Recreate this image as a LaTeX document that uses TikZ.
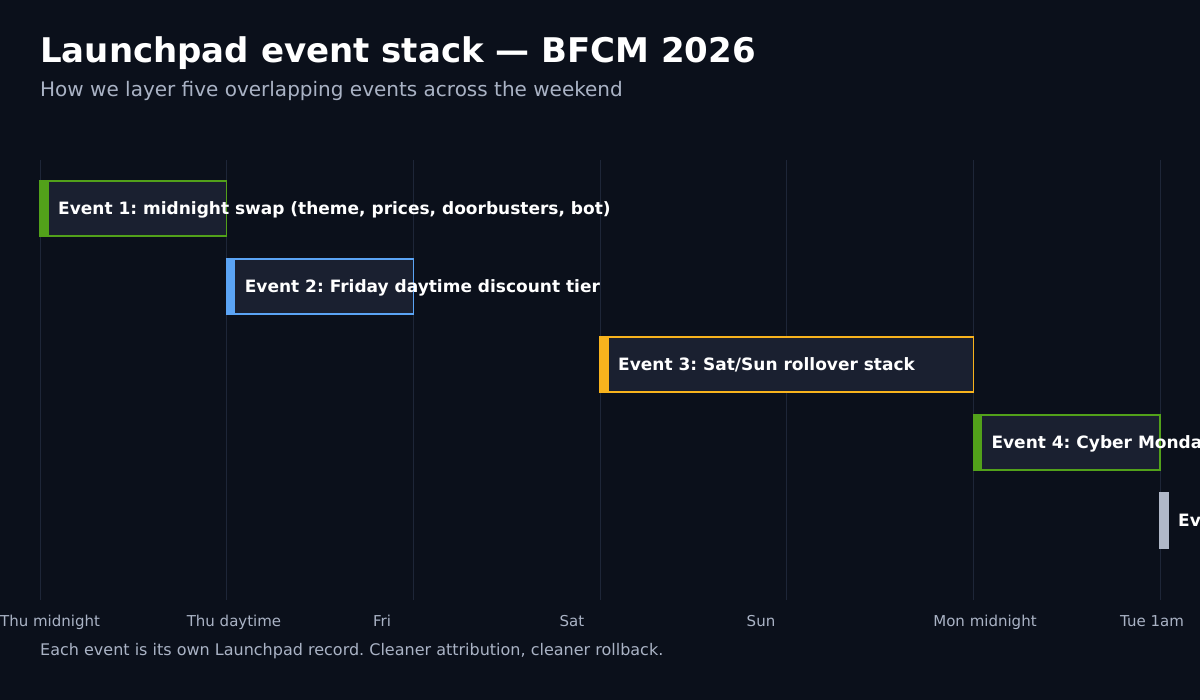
\documentclass[tikz,border=0pt]{standalone}
\usepackage{fontspec}
\setmainfont{DejaVu Sans}
\frenchspacing
\definecolor{bgdark}{HTML}{0B101B}
\definecolor{barfill}{HTML}{1A2030}
\definecolor{gridline}{HTML}{1E2638}
\definecolor{mutedtext}{HTML}{AAB3C5}
\definecolor{evgreen}{HTML}{52A11A}
\definecolor{evblue}{HTML}{5BA4F5}
\definecolor{evyellow}{HTML}{F8B31D}
\definecolor{evgrey}{HTML}{B0B8C8}
\begin{document}
\begin{tikzpicture}[x=1pt,y=-1pt]
        % Styles
        \tikzstyle{title text}=[anchor=base west,inner sep=0pt,text=white,font=\fontsize{34}{40}\selectfont\bfseries]
        \tikzstyle{subtitle text}=[anchor=base west,inner sep=0pt,text=mutedtext,font=\fontsize{20}{24}\selectfont]
        \tikzstyle{event text}=[anchor=base west,inner sep=0pt,text=white,font=\fontsize{17}{20}\selectfont\bfseries]
        \tikzstyle{axis text}=[anchor=base,inner sep=0pt,text=mutedtext,font=\fontsize{15}{18}\selectfont]
        \tikzstyle{note text}=[anchor=base west,inner sep=0pt,text=mutedtext,font=\fontsize{16}{19}\selectfont]
        \tikzstyle{grid line}=[draw=gridline,line width=1pt]
        %background
        \fill[bgdark] (0,0) rectangle (1200,700);
        \useasboundingbox (0,0) rectangle (1200,700);
        \clip (0,0) rectangle (1200,700);
        %heading
        \node[title text] (title) at (40,63) {Launchpad event stack — BFCM 2026};
        \node[subtitle text] (subtitle) at (40,97) {How we layer five overlapping events across the weekend};
        %grid
        \foreach \x in {40,226.67,413.33,600,786.67,973.33,1160}
            \draw[style=grid line] (\x,160) -- (\x,600);
        %events
        \foreach \n/\xa/\xb/\y/\col/\txt in {
            1/40/226.67/181/evgreen/{Event 1: midnight swap (theme, prices, doorbusters, bot)},
            2/226.67/413.33/259/evblue/{Event 2: Friday daytime discount tier},
            3/600/973.33/337/evyellow/{Event 3: Sat/Sun rollover stack},
            4/973.33/1160/415/evgreen/{Event 4: Cyber Monday}}
        {
            \draw[fill=barfill,draw=\col,line width=1.5pt] (\xa,\y) rectangle (\xb,\y+55);
            \fill[\col] (\xa-0.75,\y-0.75) rectangle (\xa+8.5,\y+55.75);
            \node[event text] (event\n) at (\xa+18,\y+33.5) {\txt};
        }
        \fill[evgrey] (1159,492) rectangle (1169,549);
        \node[event text] (event5) at (1178,526.5) {Event 5};
        %axis labels
        \foreach \x/\xtext/\name in {50/Thu midnight/thumid,234/Thu daytime/thuday,382/Fri/fri,572/Sat/sat,761/Sun/sun,985/Mon midnight/monmid,1152/Tue 1am/tue}
            \node[axis text] (\name) at (\x,626) {\xtext};
        %footnote
        \node[note text] (note) at (40,655) {Each event is its own Launchpad record. Cleaner attribution, cleaner rollback.};
\end{tikzpicture}
\end{document}
